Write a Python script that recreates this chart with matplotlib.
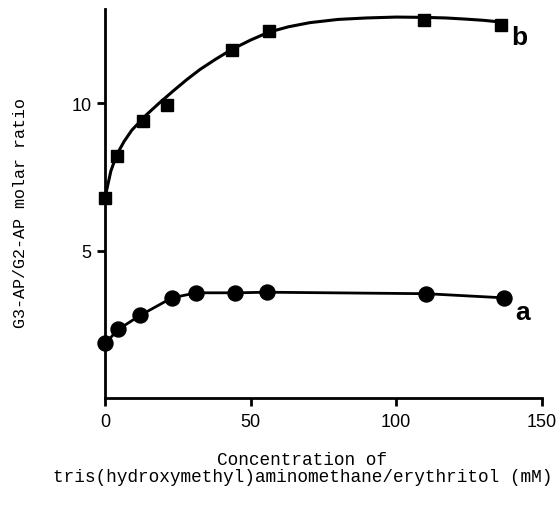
import matplotlib.pyplot as plt

# series b (squares) and the smooth curve drawn through it
b_x = [0, 4, 12.9, 21.4, 43.5, 56.3, 109.4, 136]
b_y = [6.8, 8.2, 9.4, 9.93, 11.8, 12.47, 12.84, 12.67]
curve_x = [0, 2, 4, 6.5, 9.2, 14.3, 18.5, 23.4, 28, 32.6, 38, 43.5, 50, 56.3, 63, 70.3, 80, 89.8, 100, 109.4, 117, 124, 130, 136]
curve_y = [6.8, 7.7, 8.25, 8.7, 9.09, 9.62, 10.0, 10.42, 10.8, 11.15, 11.5, 11.83, 12.15, 12.42, 12.6, 12.74, 12.85, 12.9, 12.93, 12.92, 12.9, 12.86, 12.82, 12.76]

# series a (circles)
a_x = [0, 4.6, 12, 23, 31.4, 44.8, 55.8, 110.3, 136.9]
a_y = [1.85, 2.33, 2.8, 3.4, 3.57, 3.57, 3.59, 3.54, 3.4]

x_ticks = [0, 50, 100, 150]
y_ticks = [5, 10]

fig = plt.figure(figsize=(5.6, 5.06), dpi=100)
ax = fig.add_axes([0.1875, 0.2115, 0.78, 0.7685])

ax.plot(curve_x, curve_y, color='black', lw=2.2, clip_on=False, zorder=2)
ax.plot(b_x, b_y, 's', color='black', ms=8.5, clip_on=False, zorder=3)
ax.plot(a_x, a_y, 'o-', color='black', lw=2, ms=10.8, clip_on=False, zorder=3)

ax.text(139.6, 12.0, 'b', fontsize=19, fontweight='bold', family='Liberation Sans', va='baseline')
ax.text(141, 2.67, 'a', fontsize=19, fontweight='bold', family='Liberation Sans', va='baseline')

ax.set_xlim(0, 150)
ax.set_ylim(0, 13.2)
ax.set_xticks(x_ticks)
ax.set_yticks(y_ticks)
for s in ['top', 'right']:
    ax.spines[s].set_visible(False)
for s in ['left', 'bottom']:
    ax.spines[s].set_linewidth(2)
ax.tick_params(width=2, length=6, labelsize=13)
ax.tick_params(axis='x', pad=5)
for lab in ax.get_xticklabels() + ax.get_yticklabels():
    lab.set_family('Liberation Sans')

fig.text(0.0375, 0.579, 'G3-AP/G2-AP molar ratio', rotation=90, ha='center', va='center',
         family='Liberation Mono', fontsize=12.1)
fig.text(0.54, 0.074, 'Concentration of\ntris(hydroxymethyl)aminomethane/erythritol (mM)',
         ha='center', va='center', family='Liberation Mono', fontsize=12.8, linespacing=1.0)

fig.savefig('out.png', dpi=100)
